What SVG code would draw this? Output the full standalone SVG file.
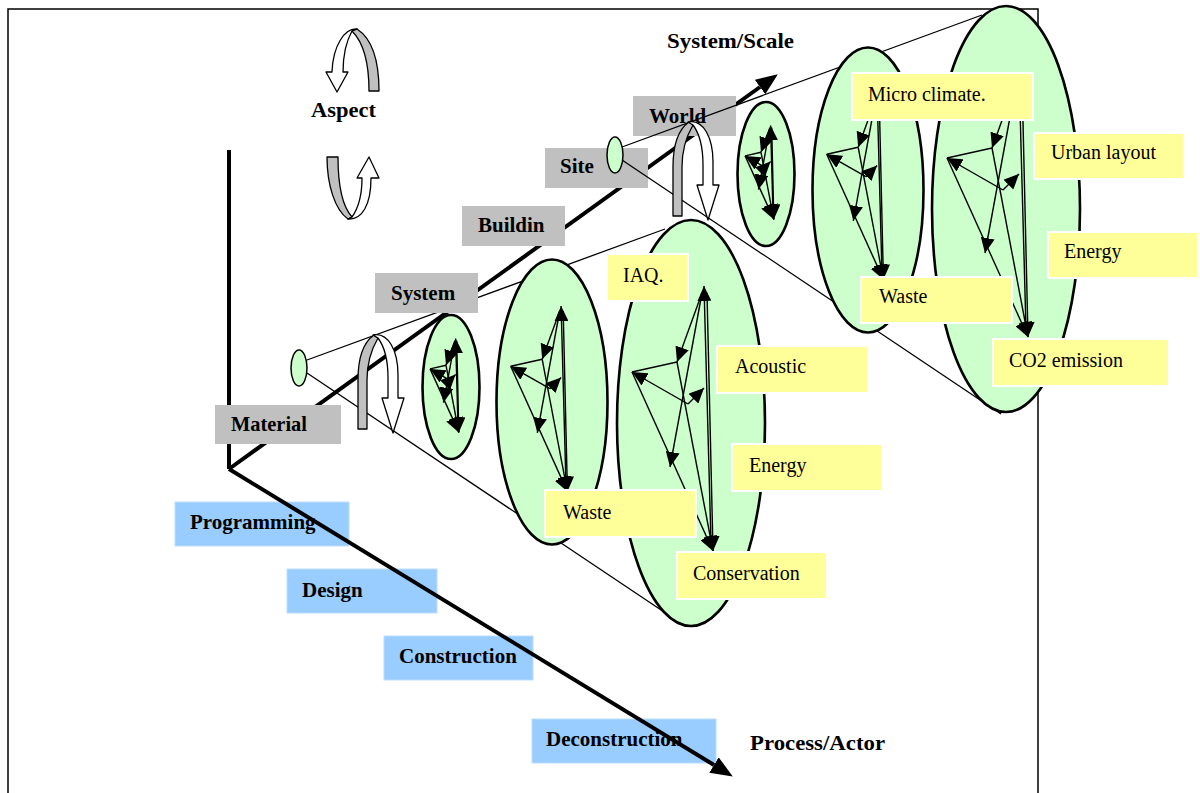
<svg xmlns="http://www.w3.org/2000/svg" xmlns:xlink="http://www.w3.org/1999/xlink" width="1200" height="793" viewBox="0 0 1200 793">
<style>
  .frame{fill:none;stroke:#000;stroke-width:1.5}
  .axis{fill:none;stroke:#000;stroke-width:4}
  .cone{fill:none;stroke:#000;stroke-width:1.3}
  .ell{fill:#CCFFCC;stroke:#000;stroke-width:2.6}
  .sell{fill:#CCFFCC;stroke:#000;stroke-width:1.5}
  .net{fill:none;stroke:#000;stroke-width:1.4}
  .gray{fill:#C0C0C0}
  .yel{fill:#FFFF99;stroke:#fff;stroke-width:2}
  .blue{fill:#99CCFF;stroke:#BBDDFF;stroke-width:1}
  .rib{fill:#C0C0C0;stroke:#000;stroke-width:1.3;stroke-linejoin:round}
  .wrib{fill:#fff;stroke:#000;stroke-width:1.3;stroke-linejoin:round}
  .bt{font-family:"Liberation Serif","Times New Roman",serif;font-weight:bold;font-size:21px;fill:#000}
  .rt{font-family:"Liberation Serif","Times New Roman",serif;font-size:20px;fill:#000}
</style>
<defs>
  <marker id="ah" markerUnits="userSpaceOnUse" viewBox="0 0 15 14" refX="15" refY="7" markerWidth="15" markerHeight="14" orient="auto">
    <path d="M0,0 L15,7 L0,14 Z" fill="#000"/>
  </marker>
  <marker id="axh" markerUnits="userSpaceOnUse" viewBox="0 0 22 18" refX="0" refY="9" markerWidth="22" markerHeight="18" orient="auto">
    <path d="M0,0 L22,9 L0,18 Z" fill="#000"/>
  </marker>
  <g id="netL" class="net">
    <path d="M20,120 L13,-137" marker-end="url(#ah)"/>
    <path d="M16,-130 L22,128" marker-end="url(#ah)"/>
    <path d="M11,-130 L-21,44" marker-end="url(#ah)"/>
    <path d="M11,-130 L-14,-61" marker-end="url(#ah)"/>
    <path d="M-59,-51 L-14,-61"/>
    <path d="M-3,-19 L-59,-51" marker-end="url(#ah)"/>
    <path d="M-3,-19 L13,-35" marker-end="url(#ah)"/>
    <path d="M-59,-51 L22,128" marker-end="url(#ah)"/>
    <path d="M-14,-61 L22,128" marker-end="url(#ah)"/>
  </g>
  <g id="netM" class="net">
    <path d="M14,84 L9.1,-95.9" marker-end="url(#ah)"/>
    <path d="M11.2,-91 L15.4,89.6" marker-end="url(#ah)"/>
    <path d="M7.7,-91 L-14.7,30.8" marker-end="url(#ah)"/>
    <path d="M7.7,-91 L-9.8,-42.7" marker-end="url(#ah)"/>
    <path d="M-41.3,-35.7 L-9.8,-42.7"/>
    <path d="M-2.1,-13.3 L-41.3,-35.7" marker-end="url(#ah)"/>
    <path d="M-2.1,-13.3 L9.1,-24.5" marker-end="url(#ah)"/>
    <path d="M-41.3,-35.7 L15.4,89.6" marker-end="url(#ah)"/>
    <path d="M-9.8,-42.7 L15.4,89.6" marker-end="url(#ah)"/>
  </g>
  <g id="netS" class="net">
    <path d="M7.1,42.6 L4.6,-48.6" marker-end="url(#ah)"/>
    <path d="M5.7,-46.2 L7.8,45.4" marker-end="url(#ah)"/>
    <path d="M3.9,-46.2 L-7.5,15.6" marker-end="url(#ah)"/>
    <path d="M3.9,-46.2 L-5,-21.7" marker-end="url(#ah)"/>
    <path d="M-20.9,-18.1 L-5,-21.7"/>
    <path d="M-1.1,-6.7 L-20.9,-18.1" marker-end="url(#ah)"/>
    <path d="M-1.1,-6.7 L4.6,-12.4" marker-end="url(#ah)"/>
    <path d="M-20.9,-18.1 L7.8,45.4" marker-end="url(#ah)"/>
    <path d="M-5,-21.7 L7.8,45.4" marker-end="url(#ah)"/>
  </g>
  <g id="archDown">
    <path class="rib" d="M358,429 L358,380 C358,358 364,342 374,335 L378,338 C371,350 367,362 367,380 L367,429 Z"/>
    <path class="wrib" d="M373,335 C388,332 398,350 398,375 L398,398 L404,398 L393,433 L382,398 L388,398 L388,378 C388,360 384,346 378,338 Z"/>
  </g>
</defs>
<rect x="0" y="0" width="1200" height="793" fill="#fff"/>
<path class="frame" d="M8,800 L8,9 L1038,9 L1038,800"/>

<g id="connectors">
  <path class="axis" d="M229,150 L229,469"/>
  <path class="axis" d="M229,469 L760,87" marker-end="url(#axh)"/>
  <path class="cone" d="M307,360 L665,229"/>
  <path class="cone" d="M307,373 L685,626"/>
</g>

<g id="material"><rect class="gray" x="215" y="405" width="126" height="39"/><text class="bt" x="231" y="431" textLength="76" lengthAdjust="spacingAndGlyphs">Material</text></g>
<g id="system"><rect class="gray" x="375" y="273" width="103" height="40"/><text class="bt" x="391" y="300">System</text></g>
<g id="buildin"><rect class="gray" x="462" y="206" width="103" height="40"/><text class="bt" x="478" y="232">Buildin</text></g>
<g id="site"><rect class="gray" x="545" y="148" width="103" height="40"/><text class="bt" x="560" y="173">Site</text></g>
<g id="world"><rect class="gray" x="633" y="96" width="103" height="40"/><text class="bt" x="649" y="123">World</text></g>

<g id="farcone">
  <path class="cone" d="M622,147 L982,15"/>
  <path class="cone" d="M622,160 L1001,414"/>
</g>

<g id="seed-near"><ellipse class="sell" cx="299" cy="368" rx="8" ry="18"/></g>
<g id="seed-far"><ellipse class="sell" cx="615" cy="155" rx="8" ry="18"/></g>

<g id="ellA"><ellipse class="ell" cx="451" cy="387" rx="28.5" ry="72"/><use xlink:href="#netS" href="#netS" x="451" y="387"/></g>
<g id="ellB"><ellipse class="ell" cx="552" cy="402" rx="55.5" ry="142.5"/><use xlink:href="#netM" href="#netM" x="552" y="402"/></g>
<g id="ellC"><ellipse class="ell" cx="691" cy="423" rx="74" ry="203"/><use xlink:href="#netL" href="#netL" x="691" y="423"/></g>
<g id="ellD"><ellipse class="ell" cx="766" cy="174" rx="28.5" ry="72"/><use xlink:href="#netS" href="#netS" x="766" y="174"/></g>
<g id="ellE"><ellipse class="ell" cx="868" cy="190" rx="55.5" ry="142.5"/><use xlink:href="#netM" href="#netM" x="868" y="190"/></g>
<g id="ellF"><ellipse class="ell" cx="1006" cy="209" rx="74" ry="203"/><use xlink:href="#netL" href="#netL" x="1006" y="209"/></g>

<g id="arch-near"><use xlink:href="#archDown" href="#archDown"/></g>
<g id="arch-far"><use xlink:href="#archDown" href="#archDown" transform="translate(315,-213)"/></g>
<g id="arch-aspect-top">
  <path class="rib" d="M369,91 L379,91 C379,65 374,40 357,29 L352,31 C363,42 369,63 369,91 Z"/>
  <path class="wrib" d="M357,29 C345,28 333,45 332,72 L326,72 L337,92 L348,72 L343,72 C343,55 347,40 352,31 Z"/>
</g>
<g id="arch-aspect-bottom">
  <path class="rib" d="M327,157 L338,157 C338,185 343,207 352,217 L348,219 C335,210 327,185 327,157 Z"/>
  <path class="wrib" d="M348,219 C362,220 371,205 371,178 L379,178 L369,157 L357,178 L362,178 C362,198 357,210 352,217 Z"/>
</g>

<g id="iaq"><rect class="yel" x="607" y="254" width="81" height="47"/><text class="rt" x="623" y="282">IAQ.</text></g>
<g id="acoustic"><rect class="yel" x="717" y="346" width="151" height="47"/><text class="rt" x="735" y="373">Acoustic</text></g>
<g id="energy1"><rect class="yel" x="732" y="444" width="150" height="47"/><text class="rt" x="749" y="472">Energy</text></g>
<g id="waste1"><rect class="yel" x="545" y="490" width="151" height="47"/><text class="rt" x="563" y="519">Waste</text></g>
<g id="conservation"><rect class="yel" x="677" y="552" width="150" height="47"/><text class="rt" x="693" y="580">Conservation</text></g>
<g id="microclimate"><rect class="yel" x="852" y="73" width="181" height="47"/><text class="rt" x="868" y="101">Micro climate.</text></g>
<g id="urban"><rect class="yel" x="1034" y="133" width="150" height="46"/><text class="rt" x="1051" y="159">Urban layout</text></g>
<g id="energy2"><rect class="yel" x="1048" y="232" width="150" height="46"/><text class="rt" x="1064" y="258">Energy</text></g>
<g id="waste2"><rect class="yel" x="861" y="277" width="151" height="46"/><text class="rt" x="879" y="303">Waste</text></g>
<g id="co2"><rect class="yel" x="993" y="339" width="176" height="47"/><text class="rt" x="1009" y="367">CO2 emission</text></g>

<g id="programming"><rect class="blue" x="175" y="502" width="174" height="44"/><text class="bt" x="190" y="529">Programming</text></g>
<g id="design"><rect class="blue" x="287" y="569" width="150" height="44"/><text class="bt" x="302" y="597">Design</text></g>
<g id="construction"><rect class="blue" x="384" y="636" width="149" height="44"/><text class="bt" x="399" y="663">Construction</text></g>
<g id="deconstruction"><rect class="blue" x="532" y="719" width="184" height="44"/><text class="bt" x="546" y="746">Deconstruction</text></g>

<g id="process-axis">
  <path class="axis" d="M229,469 L714,765" marker-end="url(#axh)"/>
</g>

<g id="labels">
  <text class="bt" x="311" y="117" textLength="65" lengthAdjust="spacingAndGlyphs">Aspect</text>
  <text class="bt" x="667" y="48" textLength="127" lengthAdjust="spacingAndGlyphs">System/Scale</text>
  <text class="bt" x="750" y="750" textLength="135" lengthAdjust="spacingAndGlyphs">Process/Actor</text>
</g>
</svg>
